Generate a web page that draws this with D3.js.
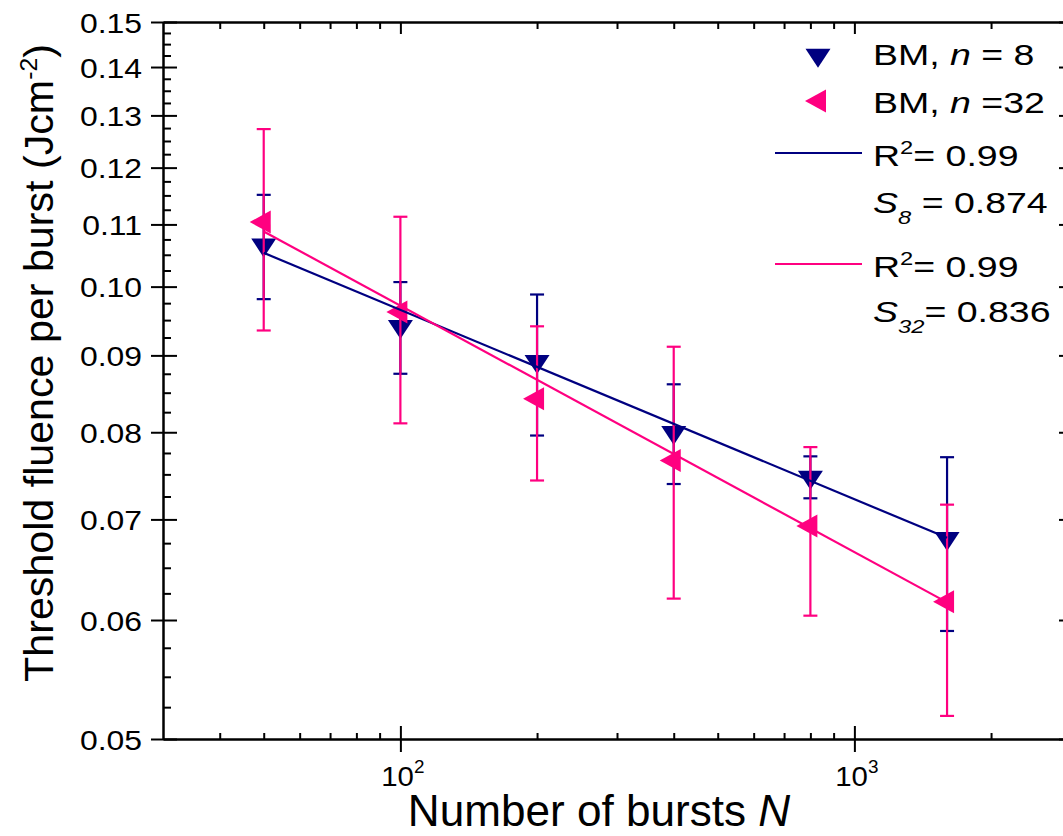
<!DOCTYPE html>
<html>
<head>
<meta charset="utf-8">
<script src="https://cdn.jsdelivr.net/npm/d3@7"></script>
<style>
  html, body { margin: 0; padding: 0; background: #fff; }
  svg { display: block; font-family: "Liberation Sans", Arial, sans-serif; }
</style>
</head>
<body>
<script>
// Number of bursts per measurement
const bursts = [50, 100, 200, 400, 800, 1600];

// Threshold fluence per burst (J/cm^2) and error, n = 8 intra-burst pulses
const fluenceN8 = [0.1066, 0.0941, 0.0892, 0.0800, 0.0747, 0.0680];
const errorN8   = [0.0085, 0.0066, 0.0096, 0.0061, 0.0024, 0.0090];

// Threshold fluence per burst (J/cm^2) and error, n = 32 intra-burst pulses
const fluenceN32 = [0.1104, 0.0962, 0.0842, 0.0766, 0.0693, 0.0617];
const errorN32   = [0.0169, 0.0151, 0.0099, 0.0146, 0.0089, 0.0099];

// Incubation fits F(N) = F1 * N^(S-1)
const fitS         = [0.874, 0.836];
const fitPrefactor = [0.1724, 0.2067];
const fitRange     = [50, 1600];

// Axis ticks
const xMajorTicks = [100, 1000];
const xMajorExp   = [2, 3];
const xMinorTicks = [40, 50, 60, 70, 80, 90, 200, 300, 400, 500, 600, 700, 800, 900, 2000];
const yMajorTicks = [0.05, 0.06, 0.07, 0.08, 0.09, 0.10, 0.11, 0.12, 0.13, 0.14, 0.15];
const yMinorTicks = d3.range(0, 41).map(i => +(0.05 + i * 0.0025).toFixed(4))
  .filter(v => Math.abs(v * 100 - Math.round(v * 100)) > 1e-6);

const BLUE = "#000080";
const PINK = "#ff0080";

const W = 1063, H = 836;
const plotLeft = 163, plotRight = 1071, plotTop = 22, plotBottom = 739;

const svg = d3.select("body").append("svg")
  .attr("width", W).attr("height", H);
svg.append("rect").attr("width", W).attr("height", H).attr("fill", "#fff");

const x = d3.scaleLog().domain([30, 3000]).range([plotLeft, plotRight]);
const y = d3.scaleLog().domain([0.05, 0.15]).range([plotBottom, plotTop]);

// ---------- axes ----------
function styleAxis(g, keepDomain) {
  g.selectAll(".tick line").attr("stroke", "#000").attr("stroke-width", 2);
  if (keepDomain) g.select(".domain").attr("stroke", "#000").attr("stroke-width", 2.5);
  else g.select(".domain").remove();
}
const noText = () => "";

// left axis
const gLeft = svg.append("g").attr("transform", `translate(${plotLeft},0)`)
  .call(d3.axisLeft(y).tickValues(yMajorTicks).tickSize(12).tickSizeOuter(0)
    .tickFormat(d3.format(".2f")));
styleAxis(gLeft, true);
gLeft.selectAll(".tick text")
  .attr("x", null).attr("dy", null)
  .attr("text-anchor", "end")
  .attr("transform", "translate(-21,10) scale(1.14,1)")
  .attr("font-size", 28).attr("fill", "#000")
  .attr("font-family", "Liberation Sans, Arial, sans-serif");
svg.append("g").attr("transform", `translate(${plotLeft},0)`)
  .call(d3.axisRight(y).tickValues(yMajorTicks).tickSize(14).tickSizeOuter(0).tickFormat(noText))
  .call(g => styleAxis(g, false));
svg.append("g").attr("transform", `translate(${plotLeft},0)`)
  .call(d3.axisRight(y).tickValues(yMinorTicks).tickSize(8).tickSizeOuter(0).tickFormat(noText))
  .call(g => styleAxis(g, false));

// right axis
svg.append("g").attr("transform", `translate(${plotRight},0)`)
  .call(d3.axisLeft(y).tickValues(yMajorTicks).tickSize(12).tickSizeOuter(0).tickFormat(noText))
  .call(g => styleAxis(g, true));
svg.append("g").attr("transform", `translate(${plotRight},0)`)
  .call(d3.axisLeft(y).tickValues(yMinorTicks).tickSize(7).tickSizeOuter(0).tickFormat(noText))
  .call(g => styleAxis(g, false));

// bottom axis
const gBottom = svg.append("g").attr("transform", `translate(0,${plotBottom})`)
  .call(d3.axisBottom(x).tickValues(xMajorTicks).tickSize(13).tickSizeOuter(0).tickFormat(noText));
styleAxis(gBottom, true);
gBottom.selectAll(".tick text").remove();
gBottom.selectAll(".tick").each(function (d, i) {
  const t = d3.select(this).append("text")
    .attr("transform", "translate(2,47) scale(1.05,1)")
    .attr("text-anchor", "middle")
    .attr("font-size", 28).attr("fill", "#000");
  t.append("tspan").text("10");
  t.append("tspan").attr("dy", -13).attr("font-size", 18).text(xMajorExp[i]);
});
svg.append("g").attr("transform", `translate(0,${plotBottom})`)
  .call(d3.axisTop(x).tickValues(xMajorTicks).tickSize(13).tickSizeOuter(0).tickFormat(noText))
  .call(g => styleAxis(g, false));
svg.append("g").attr("transform", `translate(0,${plotBottom})`)
  .call(d3.axisTop(x).tickValues(xMinorTicks).tickSize(6).tickSizeOuter(0).tickFormat(noText))
  .call(g => styleAxis(g, false));

// top axis
svg.append("g").attr("transform", `translate(0,${plotTop})`)
  .call(d3.axisBottom(x).tickValues(xMajorTicks).tickSize(12).tickSizeOuter(0).tickFormat(noText))
  .call(g => styleAxis(g, true));
svg.append("g").attr("transform", `translate(0,${plotTop})`)
  .call(d3.axisBottom(x).tickValues(xMinorTicks).tickSize(7).tickSizeOuter(0).tickFormat(noText))
  .call(g => styleAxis(g, false));

// ---------- axis titles ----------
const xTitle = svg.append("text")
  .attr("transform", "translate(599,826) scale(0.98,1)")
  .attr("text-anchor", "middle").attr("font-size", 45).attr("fill", "#000");
xTitle.append("tspan").text("Number of bursts ");
xTitle.append("tspan").attr("font-style", "italic").text("N");

const yTitle = svg.append("text")
  .attr("transform", "translate(53,363) rotate(-90) scale(1.03,1)")
  .attr("text-anchor", "middle").attr("font-size", 40).attr("fill", "#000");
yTitle.append("tspan").text("Threshold fluence per burst (Jcm");
yTitle.append("tspan").attr("dy", -16).attr("font-size", 24).text("-2");
yTitle.append("tspan").attr("dy", 16).text(")");

// ---------- marker shapes ----------
function downTriangle(cx, cy, w, h) {
  const p = d3.path();
  p.moveTo(cx - w / 2, cy - h / 3);
  p.lineTo(cx + w / 2, cy - h / 3);
  p.lineTo(cx, cy + 2 * h / 3);
  p.closePath();
  return p.toString();
}
function leftTriangle(cx, cy, w, h) {
  const p = d3.path();
  p.moveTo(cx - 2 * w / 3, cy);
  p.lineTo(cx + w / 3, cy - h / 2);
  p.lineTo(cx + w / 3, cy + h / 2);
  p.closePath();
  return p.toString();
}

const plot = svg.append("g");

function drawSeries(values, errors, color, shape, w, h) {
  const data = bursts.map((n, i) => ({ n, v: values[i], e: errors[i] }));
  const eb = plot.append("g").attr("stroke", color).attr("stroke-width", 2.2);
  eb.selectAll(".bar").data(data).join("line")
    .attr("x1", d => x(d.n)).attr("x2", d => x(d.n))
    .attr("y1", d => y(d.v + d.e)).attr("y2", d => y(d.v - d.e));
  eb.selectAll(".capTop").data(data).join("line")
    .attr("x1", d => x(d.n) - 7).attr("x2", d => x(d.n) + 7)
    .attr("y1", d => y(d.v + d.e)).attr("y2", d => y(d.v + d.e));
  eb.selectAll(".capBot").data(data).join("line")
    .attr("x1", d => x(d.n) - 7).attr("x2", d => x(d.n) + 7)
    .attr("y1", d => y(d.v - d.e)).attr("y2", d => y(d.v - d.e));
  plot.append("g").selectAll("path").data(data).join("path")
    .attr("d", d => shape(x(d.n), y(d.v), w, h))
    .attr("fill", color);
}

drawSeries(fluenceN8, errorN8, BLUE, downTriangle, 25, 19);
drawSeries(fluenceN32, errorN32, PINK, leftTriangle, 21, 23);

// fit lines
const fitColors = [BLUE, PINK];
const line = d3.line().x(d => x(d[0])).y(d => y(d[1]));
fitS.forEach((s, i) => {
  const pts = fitRange.map(n => [n, fitPrefactor[i] * Math.pow(n, s - 1)]);
  plot.append("path").attr("d", line(pts))
    .attr("fill", "none").attr("stroke", fitColors[i]).attr("stroke-width", 2.2);
});

// ---------- legend ----------
const lg = svg.append("g").attr("fill", "#000");
const legendX = 873;
function legendText(yb) {
  return lg.append("text")
    .attr("transform", `translate(${legendX},${yb}) scale(1.25,1)`)
    .attr("font-size", 30);
}
lg.append("path").attr("d", downTriangle(818, 55, 25, 19)).attr("fill", BLUE);
let t = legendText(65);
t.append("tspan").text("BM, ");
t.append("tspan").attr("font-style", "italic").text("n");
t.append("tspan").text(" = 8");

lg.append("path").attr("d", leftTriangle(819, 101, 21, 23)).attr("fill", PINK);
t = legendText(113);
t.append("tspan").text("BM, ");
t.append("tspan").attr("font-style", "italic").text("n");
t.append("tspan").text(" =32");

lg.append("line").attr("x1", 775).attr("x2", 862).attr("y1", 153).attr("y2", 153)
  .attr("stroke", BLUE).attr("stroke-width", 2);
t = legendText(166);
t.append("tspan").text("R");
t.append("tspan").attr("dy", -12).attr("font-size", 19).text("2");
t.append("tspan").attr("dy", 12).text("= 0.99");

t = legendText(213);
t.append("tspan").attr("font-style", "italic").text("S");
t.append("tspan").attr("dy", 11).attr("font-size", 19).attr("font-style", "italic").text("8");
t.append("tspan").attr("dy", -11).text(" = " + fitS[0].toFixed(3));

lg.append("line").attr("x1", 775).attr("x2", 862).attr("y1", 264).attr("y2", 264)
  .attr("stroke", PINK).attr("stroke-width", 2);
t = legendText(277);
t.append("tspan").text("R");
t.append("tspan").attr("dy", -12).attr("font-size", 19).text("2");
t.append("tspan").attr("dy", 12).text("= 0.99");

t = legendText(322);
t.append("tspan").attr("font-style", "italic").text("S");
t.append("tspan").attr("dy", 11).attr("font-size", 19).attr("font-style", "italic").text("32");
t.append("tspan").attr("dy", -11).text("= " + fitS[1].toFixed(3));
</script>
</body>
</html>
